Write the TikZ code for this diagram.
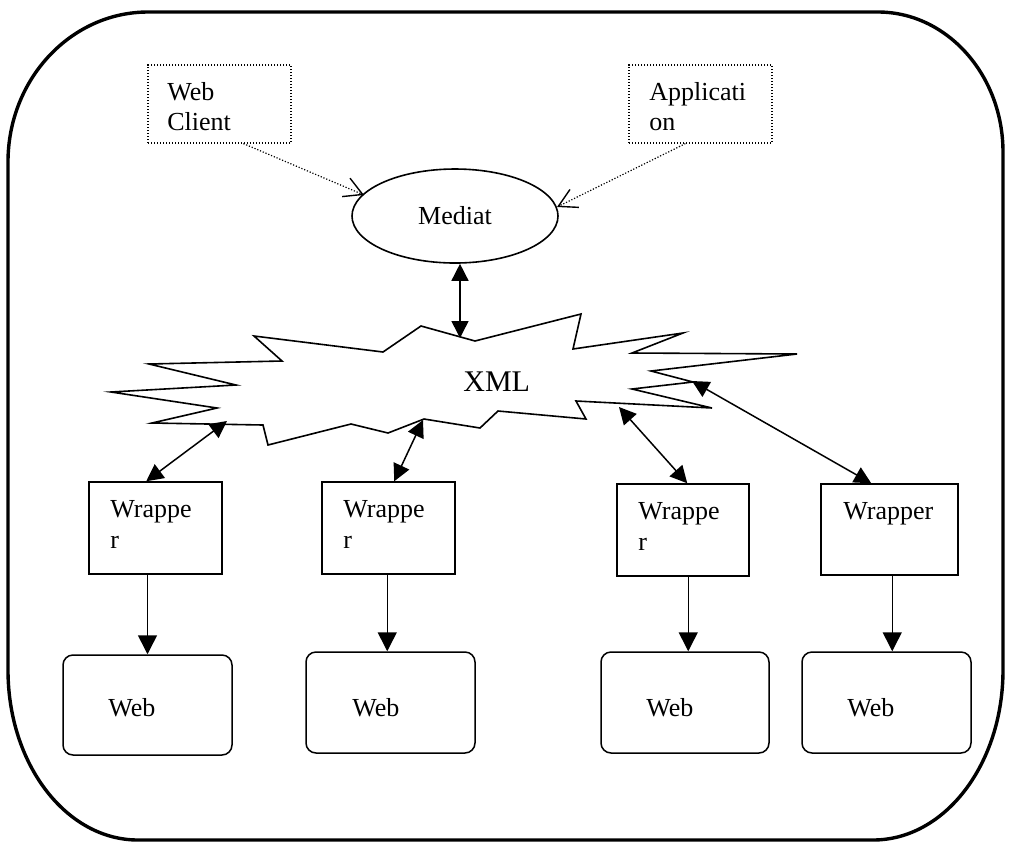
\documentclass[tikz,border=0pt]{standalone}
\usepackage{fontspec}
\setmainfont{Liberation Serif}
\usetikzlibrary{arrows.meta,shapes.geometric,calc}
\begin{document}
\begin{tikzpicture}[x=0.5pt,y=-0.5pt,
  every node/.style={font=\fontsize{13pt}{15pt}\selectfont},
  txt/.style={anchor=base west,inner sep=0pt},
  dotbox/.style={draw,dash pattern=on 0.6pt off 0.9pt,line width=0.6pt,
    minimum width=71.5pt,minimum height=39pt,inner sep=0pt},
  wrapbox/.style={draw,line width=0.75pt,minimum height=46pt,inner sep=0pt},
  webbox/.style={draw,line width=0.75pt,rounded corners=5pt,
    minimum width=84.5pt,minimum height=50.5pt,inner sep=0pt},
  arr/.style={line width=0.75pt,-{Triangle[length=9.5pt,width=9.5pt]}},
  dbl/.style={line width=0.75pt,
    {Triangle[length=8.5pt,width=8.5pt]}-{Triangle[length=8.5pt,width=8.5pt]}},
  dotarr/.style={line width=0.6pt,dash pattern=on 0.6pt off 0.9pt,
    -{Straight Barb[length=9pt,width=10pt,line width=0.7pt]}}]
\useasboundingbox (0,0) rectangle (1009,843);

% outer frame with large rounded corners
\draw[line width=1.7pt]
  (148,12) -- (878,12)
  .. controls (947,12) and (1003,75) .. (1003,152)
  -- (1003,670)
  .. controls (1003,764) and (945,840) .. (873,840)
  -- (138,840)
  .. controls (66,840) and (8,764) .. (8,670)
  -- (8,162)
  .. controls (8,79) and (71,12) .. (148,12) -- cycle;

% clients
\node[dotbox] (wc) at (219.5,104) {};
\node[txt] (wct1) at (167,100) {Web};
\node[txt] (wct2) at (167,130) {Client};
\node[dotbox] (app) at (700.5,104) {};
\node[txt] (appt1) at (649,100) {Applicati};
\node[txt] (appt2) at (649,130) {on};

% mediator
\node[draw,ellipse,line width=0.8pt,minimum width=103pt,minimum height=47pt,
  inner sep=0pt] (med) at (455,216) {};
\node[anchor=base,inner sep=0pt] (medt) at (455,224) {Mediat};

% XML cloud
\draw[line width=0.8pt,line join=miter]
  (254,336) -- (383,352) -- (421,326) -- (475,341) -- (581,314) -- (573,349)
  -- (683,333) -- (632,353) -- (797,354) -- (651,371) -- (693,382) -- (632,389)
  -- (712,408) -- (576,401) -- (586,419) -- (498,411) -- (480,428) -- (424,419)
  -- (388,433) -- (351,424) -- (268,445) -- (263,425) -- (152,423) -- (217,408)
  -- (111,392) -- (236,385) -- (149,364) -- (282,361) -- cycle;
\node[txt,font=\fontsize{15pt}{17pt}\selectfont] (xmlt) at (463,391) {XML};

\coordinate (medL) at (364,195);
\coordinate (medR) at (557,207);
\coordinate (xTop) at (460,338);
\coordinate (x1) at (227,421);
\coordinate (x2) at (423,420);
\coordinate (x3) at (619,407);
\coordinate (x4) at (692,381);

% wrappers
\node[wrapbox,minimum width=66.5pt] (w1) at (155.5,528) {};
\node[txt] (w1a) at (110,517) {Wrappe};
\node[txt] (w1b) at (110,548) {r};
\node[wrapbox,minimum width=66.5pt] (w2) at (388.5,528) {};
\node[txt] (w2a) at (343,517) {Wrappe};
\node[txt] (w2b) at (343,548) {r};
\node[wrapbox,minimum width=66pt] (w3) at (683,530) {};
\node[txt] (w3a) at (638,519) {Wrappe};
\node[txt] (w3b) at (638,550) {r};
\node[wrapbox,minimum width=68.5pt,minimum height=45.5pt] (w4) at (889.5,529.5) {};
\node[txt] (w4a) at (843,519) {Wrapper};

% web sources
\node[webbox,minimum height=50pt] (web1) at (147.5,705) {};
\node[txt] (web1t) at (108,716) {Web};
\node[webbox] (web2) at (390.5,702.5) {};
\node[txt] (web2t) at (352,716) {Web};
\node[webbox,minimum width=84pt] (web3) at (685,702.5) {};
\node[txt] (web3t) at (646,716) {Web};
\node[webbox] (web4) at (886.5,702.5) {};
\node[txt] (web4t) at (847,716) {Web};

% connectors
\draw[dotarr] ($(wc.south west)+(96,0)$) -- (medL);
\draw[dotarr] ($(app.south west)+(57,0)$) -- (medR);
\draw[dbl] (med.south -| xTop) -- (xTop);
\draw[dbl] ($(w1.north west)+(58,0)$) -- (x1);
\draw[dbl] ($(w2.north west)+(73,0)$) -- (x2);
\draw[dbl] ($(w3.north west)+(71,0)$) -- (x3);
\draw[dbl] ($(w4.north west)+(51,0)$) -- (x4);
\draw[arr] (w1.south -| web1.north) -- (web1.north);
\draw[arr] ($(w2.south west)+(66,0)$) coordinate (d2) -- (d2 |- web2.north);
\draw[arr] ($(w3.south west)+(72,0)$) coordinate (d3) -- (d3 |- web3.north);
\draw[arr] ($(w4.south west)+(72,0)$) coordinate (d4) -- (d4 |- web4.north);
\end{tikzpicture}
\end{document}
